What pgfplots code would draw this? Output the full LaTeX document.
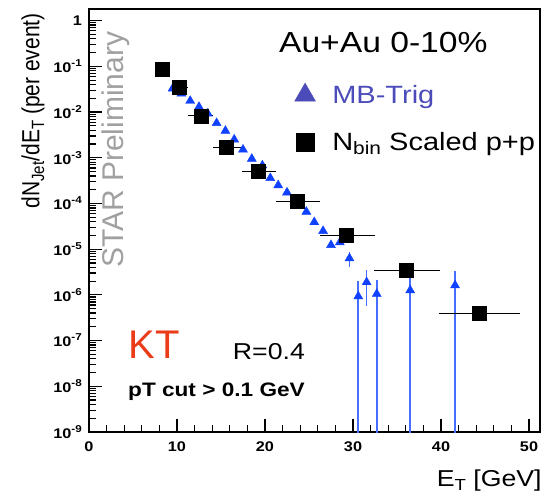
\documentclass[border=0pt]{standalone}
\usepackage{fontspec}
\setmainfont{Liberation Sans}
\usepackage{graphicx}
\usepackage{pgfplots}
\usepackage{pgfplotstable}
\pgfplotsset{compat=1.18}

\definecolor{mbblue}{RGB}{15,65,255}
\definecolor{errblue}{RGB}{70,110,255}
\definecolor{legblue}{RGB}{75,75,185}
\definecolor{ktred}{RGB}{235,60,25}
\definecolor{stargray}{RGB}{160,160,160}
% the original picture is stretched sideways a little
\newcommand{\sx}[1]{\scalebox{1.16}[1]{#1}}
% raised / lowered small text: size, shift, text
\newcommand{\up}[3]{{\fontsize{#1}{#1}\selectfont\raise#2\hbox{#3}}}
\newcommand{\dec}[1]{\sx{10\up{10}{6pt}{-#1}}}

% N_bin scaled p+p (squares, horizontal bin bars)
\pgfplotstableread{
x     y        exm   exp
8.3   0.086    0.7   0.9
10.27 0.0345   1.07  1.03
12.7  0.0083   1.4   1.4
15.57 0.00168  1.52  1.78
19.24 5.0e-4   1.89  2.06
23.7  1.12e-4  2.4   2.55
29.2  2.0e-5   3.0   3.3
36.0  3.4e-6   3.6   3.9
44.3  3.9e-7   4.5   4.7
}\ppdata

% MB-Trig (triangles)
\pgfplotstableread{
x     y
9.5   0.0327
10.5  0.0255
11.5  0.0176
12.5  0.0130
13.5  0.0093
14.5  0.00575
15.5  0.00389
16.5  0.00251
17.5  0.00151
18.5  9.5e-4
19.7  6.8e-4
20.6  3.6e-4
21.5  2.5e-4
22.5  1.74e-4
23.5  1.12e-4
24.7  6.6e-5
25.6  3.9e-5
26.6  2.5e-5
27.5  1.23e-5
28.5  1.41e-5
}\mbdata

% MB-Trig tail with vertical errors (lower ends run off the axis)
\pgfplotstableread{
x     y        eyp      eym
29.6  6.3e-6   2.6e-6   2.3e-6
30.6  9.3e-7   1.07e-6  9.298e-7
31.55 1.9e-6   1.65e-6  1.33e-6
32.7  1.05e-6  1.1e-6   1.0498e-6
36.5  1.26e-6  1.74e-6  1.2598e-6
41.6  1.62e-6  1.78e-6  1.6198e-6
}\mbtail

\begin{document}
\begin{tikzpicture}
\path[use as bounding box] (-89pt,-65pt) rectangle (460pt,432pt);
\begin{axis}[
  scale only axis,
  width=451pt, height=423pt,
  ymode=log,
  xmin=0, xmax=51.25,
  ymin=1e-9, ymax=1.8,
  axis line style={line width=1.6pt},
  xtick pos=bottom, ytick pos=left,
  tick align=inside,
  major tick length=13pt, minor tick length=7pt,
  every tick/.style={black, line width=1.2pt},
  xtick={0,10,20,30,40,50},
  xticklabels={{\sx{0}},{\sx{10}},{\sx{20}},{\sx{30}},{\sx{40}},{\sx{50}}},
  minor x tick num=4,
  ytick={1e-9,1e-8,1e-7,1e-6,1e-5,1e-4,1e-3,1e-2,1e-1,1},
  yticklabels={{\dec{9}},{\dec{8}},{\dec{7}},{\dec{6}},{\dec{5}},{\dec{4}},{\dec{3}},{\dec{2}},{\dec{1}},{\sx{1}}},
  ticklabel style={font=\bfseries\fontsize{14}{14}\selectfont},
  xticklabel style={yshift=-6pt},
  yticklabel style={anchor=east, inner sep=0pt, xshift=-7pt},
  xlabel={\sx{E\up{16}{-4pt}{T} [GeV]}},
  xlabel style={at={(axis description cs:1.004,-0.115)}, anchor=east, inner sep=0pt, font=\fontsize{23}{23}\selectfont},
  ylabel={\scalebox{1}[1.18]{dN\up{15}{-4pt}{Jet}/dE\up{15}{-4pt}{T} (per event)}},
  ylabel style={at={(axis description cs:-0.124,0.99)}, anchor=east, inner sep=0pt, font=\fontsize{21}{21}\selectfont},
  legend style={draw=none, fill=none, at={(axis description cs:0.445,0.83)}, anchor=north west,
    font=\fontsize{25}{30}\selectfont, row sep=23pt},
  legend cell align=left,
  legend image code/.code={\path (0pt,-1pt) (37pt,1pt);
    \draw[mark repeat=2,mark phase=2,#1] plot coordinates {(0pt,0pt)(12pt,0pt)(24pt,0pt)};},
]
\addlegendimage{only marks, mark=triangle*, mark size=12pt, color=legblue}
\addlegendentry{\textcolor{legblue}{\sx{MB-Trig}}}
\addlegendimage{only marks, mark=square*, mark size=9pt, color=black}
\addlegendentry{\sx{N\up{18}{-4pt}{bin} Scaled p+p}}

\addplot[forget plot, only marks, mark=triangle*, mark size=5.2pt, color=mbblue] table[x=x,y=y] {\mbdata};
\addplot[forget plot, only marks, mark=triangle*, mark size=5.2pt, color=mbblue,
  error bars/.cd, y dir=both, y explicit, error mark=none,
  error bar style={line width=1.6pt, errblue}]
  table[x=x,y=y,y error plus=eyp,y error minus=eym] {\mbtail};
\addplot[forget plot, only marks, mark=square*, mark size=7pt, color=black,
  error bars/.cd, x dir=both, x explicit, error mark=none,
  error bar style={line width=1.2pt, black}]
  table[x=x,y=y,x error minus=exm,x error plus=exp] {\ppdata};

\node[font=\fontsize{29}{29}\selectfont] at (axis description cs:0.6526,0.9196) {\sx{Au+Au 0-10\%}};
\node[font=\fontsize{40}{40}\selectfont, text=ktred] at (axis description cs:0.144,0.2057) {KT};
\node[font=\fontsize{23}{23}\selectfont] at (axis description cs:0.399,0.189) {\sx{R=0.4}};
\node[font=\bfseries\fontsize{19.5}{19.5}\selectfont] at (axis description cs:0.2827,0.0946) {\sx{pT cut > 0.1 GeV}};
\node[rotate=90, font=\fontsize{30}{30}\selectfont, text=stargray] at (axis description cs:0.060,0.667) {STAR Preliminary};
\end{axis}
\end{tikzpicture}
\end{document}
